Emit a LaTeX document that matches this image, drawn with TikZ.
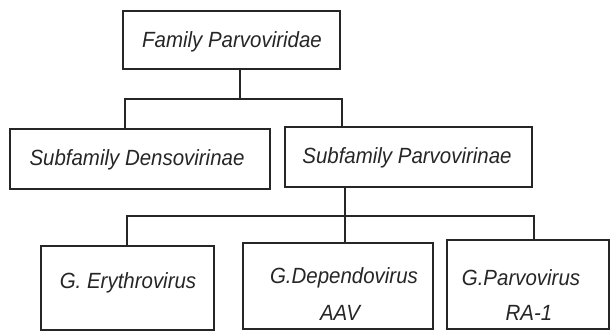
\documentclass[tikz,border=0pt]{standalone}
\usepackage{fontspec}
\setmainfont[FakeStretch=0.93]{Liberation Sans}
\begin{document}
\begin{tikzpicture}[x=1pt,y=-1pt,
  box/.style={draw=black!85, line width=1.1pt, rectangle, inner sep=0pt},
  lbl/.style={font=\fontsize{22}{26}\selectfont\itshape, inner sep=0pt, anchor=base, text=black!85},
  conn/.style={draw=black!85, line width=1.1pt}]
\useasboundingbox (0,0) rectangle (610,331);
% boxes
\node[box, minimum width=217pt, minimum height=58pt] (top) at (231.5,40) {};
\node[box, minimum width=260pt, minimum height=60pt] (sd) at (140,159) {};
\node[box, minimum width=247pt, minimum height=60pt] (sp) at (408.5,157) {};
\node[box, minimum width=173pt, minimum height=84pt] (ge) at (127.5,288) {};
\node[box, minimum width=190pt, minimum height=86pt] (gd) at (338,286) {};
\node[box, minimum width=162pt, minimum height=89pt] (gp) at (528,284.5) {};
% texts
\node[lbl] (topt) at (232,48) {Family Parvoviridae};
\node[lbl] (sdt) at (137,166) {Subfamily Densovirinae};
\node[lbl] (spt) at (407,164) {Subfamily Parvovirinae};
\node[lbl] (get) at (128,288) {G. Erythrovirus};
\node[lbl] (gdt) at (344,283) {G.Dependovirus};
\node[lbl] (gdt2) at (340,320) {AAV};
\node[lbl] (gpt) at (521,285) {G.Parvovirus};
\node[lbl] (gpt2) at (529,320) {RA-1};
% connectors
\coordinate (b1l) at (125,99);
\coordinate (b1m) at (240,99);
\coordinate (b1r) at (342,99);
\draw[conn] (b1m |- top.south) -- (b1m);
\draw[conn] (sd.north -| b1l) -- (b1l) -- (b1r) -- (sp.north -| b1r);
\coordinate (b2l) at (127,216);
\coordinate (b2m) at (345,216);
\coordinate (b2r) at (534,216);
\draw[conn] (b2m |- sp.south) -- (b2m);
\draw[conn] (ge.north -| b2l) -- (b2l) -- (b2r) -- (gp.north -| b2r);
\draw[conn] (b2m) -- (gd.north -| b2m);
\end{tikzpicture}
\end{document}
